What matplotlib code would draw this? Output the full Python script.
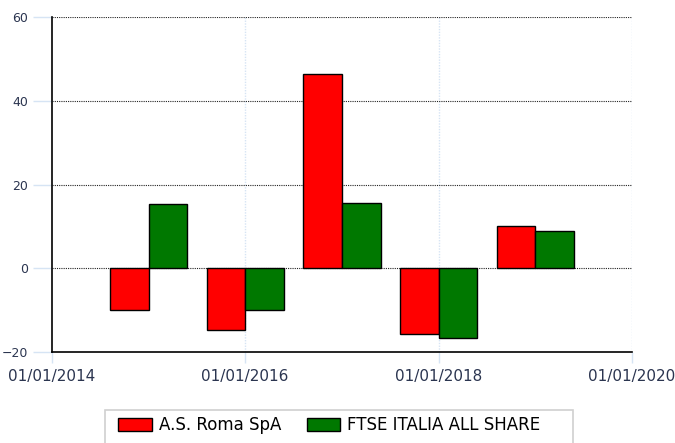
import numpy as np
import matplotlib
matplotlib.use('Agg')
import matplotlib.pyplot as plt
import matplotlib.dates as mdates
import matplotlib.patches as mpatches
from datetime import datetime

# data
years = ['2015-01-01', '2016-01-01', '2017-01-01', '2018-01-01', '2019-01-01']
roma = [-10.0, -14.8, 46.3, -15.8, 10.0]
ftse = [15.3, -10.0, 15.5, -16.7, 8.8]
series_names = ['A.S. Roma SpA', 'FTSE ITALIA ALL SHARE']
tick_dates = ['2014-01-01', '2016-01-01', '2018-01-01', '2020-01-01']

grid_blue = '#d6e4f4'
label_col = '#2b3550'

fig = plt.figure(figsize=(6.75, 4.43), dpi=100)
ax = fig.add_axes([0.077, 0.2054, 0.859, 0.7562])

x = mdates.date2num([datetime.strptime(d, '%Y-%m-%d') for d in years])
w = 146  # days
ax.bar(x, roma, width=-w, align='edge', color='#ff0000', edgecolor='black', linewidth=1, zorder=3)
ax.bar(x, ftse, width=w, align='edge', color='#007800', edgecolor='black', linewidth=1, zorder=3)

ax.set_ylim(-20, 60)
ax.set_yticks([-20, 0, 20, 40, 60])
ticks = mdates.date2num([datetime.strptime(d, '%Y-%m-%d') for d in tick_dates])
ax.set_xlim(ticks[0], ticks[-1])
ax.set_xticks(ticks)
ax.xaxis.set_major_formatter(mdates.DateFormatter('%d/%m/%Y'))

# grids
for yv in [0, 20, 40, 60]:
    ax.axhline(yv, color='#222222', linestyle=(0, (1, 1)), linewidth=0.8, zorder=1)
for xv in ticks[1:]:
    ax.axvline(xv, color=grid_blue, linestyle=(0, (1, 1)), linewidth=1, zorder=0)

for s in ['top', 'right']:
    ax.spines[s].set_visible(False)
for s in ['left', 'bottom']:
    ax.spines[s].set_color('black')
    ax.spines[s].set_linewidth(1.2)
    ax.spines[s].set_zorder(4)

ax.tick_params(axis='y', length=14, width=1, color=grid_blue, pad=3,
               labelsize=9, labelcolor=label_col)
ax.tick_params(axis='x', length=8, width=1, color=grid_blue, pad=4,
               labelsize=11, labelcolor=label_col)

# legend
handles = [mpatches.Patch(facecolor='#ff0000', edgecolor='black', label=series_names[0]),
           mpatches.Patch(facecolor='#007800', edgecolor='black', label=series_names[1])]
fig.legend(handles=handles, loc='center', bbox_to_anchor=(0.488, 0.04), ncol=2,
           frameon=False, fontsize=12, handlelength=2.0, handleheight=0.85,
           handletextpad=0.42, columnspacing=1.55)
fig.patches.append(mpatches.Rectangle((105 / 675, -0.05), 468 / 675, 0.05 + 1 - 410 / 443,
                                      transform=fig.transFigure, fill=False,
                                      edgecolor='#d0d0d0', linewidth=1.2))

fig.savefig('out.png', dpi=100)
